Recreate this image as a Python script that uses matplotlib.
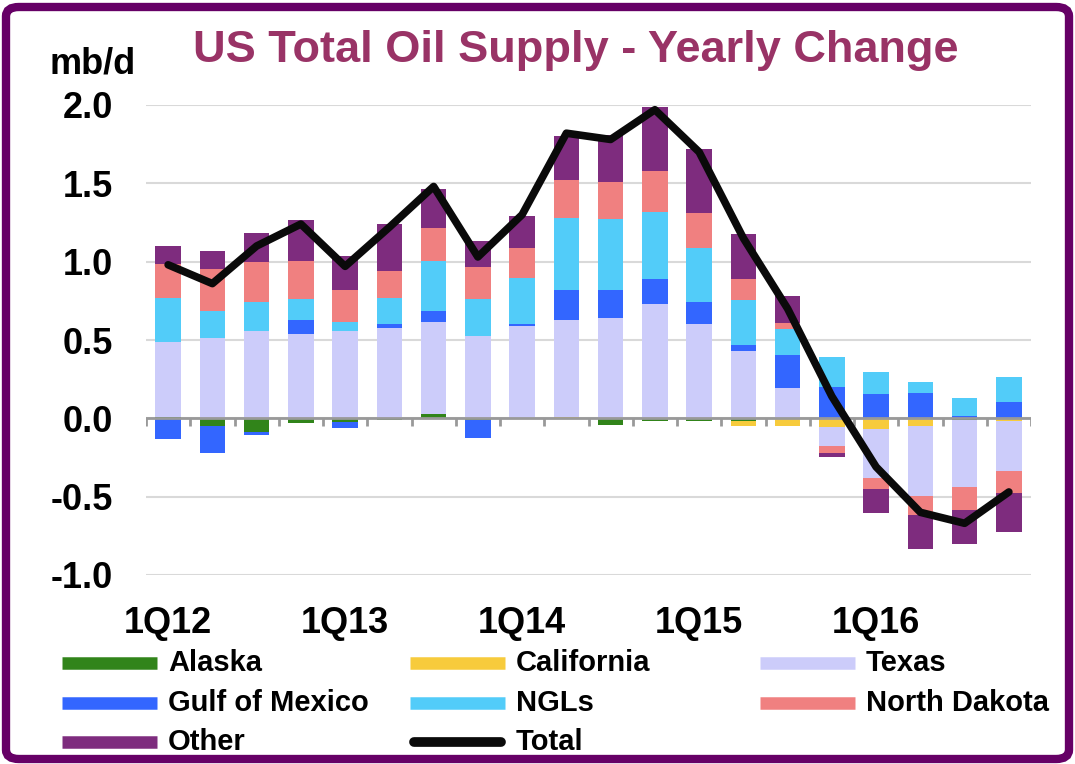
import matplotlib
matplotlib.use("agg")
import matplotlib.pyplot as plt
import numpy as np
from matplotlib.patches import FancyBboxPatch
from matplotlib.lines import Line2D

plt.rcParams['font.family'] = ['Liberation Sans', 'DejaVu Sans']
plt.rcParams['font.weight'] = 'bold'

quarters = ['1Q12', '2Q12', '3Q12', '4Q12', '1Q13', '2Q13', '3Q13', '4Q13',
            '1Q14', '2Q14', '3Q14', '4Q14', '1Q15', '2Q15', '3Q15', '4Q15',
            '1Q16', '2Q16', '3Q16', '4Q16']
tick_labels = ['1Q12', '1Q13', '1Q14', '1Q15', '1Q16']

alaska = [0.01, -0.05, -0.085, -0.03, -0.025, -0.01, 0.025, -0.01, -0.005, 0.0,
          -0.04, -0.02, -0.02, -0.02, 0.0, 0.0, 0.0, 0.0, -0.01, 0.0]
california = [0.0, 0.0, 0.0, 0.0, 0.0, 0.0, 0.0, 0.0, 0.0, 0.01,
              0.0, 0.0, 0.0, -0.03, -0.05, -0.058, -0.069, -0.047, 0.0, -0.015]
texas = [0.478, 0.513, 0.556, 0.541, 0.556, 0.578, 0.589, 0.524, 0.588, 0.617,
         0.64, 0.727, 0.599, 0.428, 0.193, -0.118, -0.315, -0.451, -0.428, -0.32]
gulf = [-0.13, -0.17, -0.02, 0.086, -0.035, 0.021, 0.07, -0.118, 0.011, 0.193,
        0.18, 0.161, 0.143, 0.042, 0.21, 0.20, 0.157, 0.161, 0.017, 0.107]
ngls = [0.282, 0.171, 0.186, 0.133, 0.058, 0.171, 0.321, 0.235, 0.299, 0.46,
        0.45, 0.432, 0.345, 0.283, 0.166, 0.193, 0.139, 0.071, 0.114, 0.157]
north_dakota = [0.214, 0.272, 0.257, 0.245, 0.206, 0.17, 0.208, 0.204, 0.192, 0.24,
                0.24, 0.256, 0.223, 0.137, 0.038, -0.043, -0.065, -0.118, -0.146, -0.139]
other = [0.113, 0.114, 0.181, 0.261, 0.217, 0.30, 0.252, 0.171, 0.204, 0.28,
         0.30, 0.414, 0.41, 0.286, 0.172, -0.028, -0.156, -0.219, -0.216, -0.251]
total = [0.98, 0.86, 1.10, 1.24, 0.97, 1.22, 1.48, 1.03, 1.30, 1.82,
         1.78, 1.97, 1.70, 1.15, 0.70, 0.14, -0.31, -0.60, -0.67, -0.47]

series = [('Alaska', alaska, '#31841A'),
          ('California', california, '#F7CB3C'),
          ('Texas', texas, '#CCCCFA'),
          ('Gulf of Mexico', gulf, '#3366FF'),
          ('NGLs', ngls, '#52CCF9'),
          ('North Dakota', north_dakota, '#F08080'),
          ('Other', other, '#7E2C7E')]

fig = plt.figure(figsize=(10.75, 7.64), dpi=100)
ax = fig.add_axes([146 / 1075, 1 - 575 / 764, (1031 - 146) / 1075, (575 - 105) / 764])

x = np.arange(len(quarters))
pos_base = np.zeros(len(x))
neg_base = np.zeros(len(x))
for name, vals, col in series:
    v = np.array(vals)
    p = np.where(v > 0, v, 0)
    n = np.where(v < 0, v, 0)
    ax.bar(x, p, 0.58, bottom=pos_base, color=col, zorder=2)
    ax.bar(x, n, 0.58, bottom=neg_base, color=col, zorder=2)
    pos_base += p
    neg_base += n

ax.plot(x, total, color='#0a0a0a', lw=5.5, solid_joinstyle='round', solid_capstyle='round', zorder=4)

ax.set_xlim(-0.5, len(x) - 0.5)
ax.set_ylim(-1.0, 2.0)
ax.set_yticks([-1.0, -0.5, 0.0, 0.5, 1.0, 1.5, 2.0])
ax.set_yticklabels(['-1.0', '-0.5', '0.0', '0.5', '1.0', '1.5', '2.0'], fontsize=26, fontweight='bold')
ax.grid(axis='y', color='#D9D9D9', lw=1.5, zorder=0)
for s in ax.spines.values():
    s.set_visible(False)
ax.tick_params(axis='y', length=0, pad=24)
ax.set_xticks(x[::4])
ax.set_xticklabels(tick_labels, fontsize=26, fontweight='bold')
ax.tick_params(axis='x', length=0, pad=22)

# zero axis with category separators
ax.axhline(0, color='#999999', lw=2, zorder=3)
ax.vlines(np.arange(len(x) + 1) - 0.5, -0.05, 0, color='#999999', lw=2, zorder=3)

fig.text(50 / 1075, 1 - 73 / 764, 'mb/d', fontsize=26, fontweight='bold', ha='left', va='baseline')
fig.text(576 / 1075, 1 - 62 / 764, 'US Total Oil Supply - Yearly Change', fontsize=32.5,
         fontweight='bold', color='#993366', ha='center', va='baseline')

# legend drawn manually
legend_items = [('Alaska', '#31841A', 0, 0), ('California', '#F7CB3C', 1, 0), ('Texas', '#CCCCFA', 2, 0),
                ('Gulf of Mexico', '#3366FF', 0, 1), ('NGLs', '#52CCF9', 1, 1), ('North Dakota', '#F08080', 2, 1),
                ('Other', '#7E2C7E', 0, 2), ('Total', '#0a0a0a', 1, 2)]
col_x = [62, 410, 760]
row_y = [663, 703, 742]
for name, col, c, r in legend_items:
    y = 1 - row_y[r] / 764
    x0 = col_x[c] / 1075
    x1 = (col_x[c] + 95) / 1075
    if name == 'Total':
        fig.add_artist(Line2D([x0 + 0.004, x1 - 0.004], [y, y], color=col, lw=7, solid_capstyle='round'))
    else:
        fig.add_artist(Line2D([x0, x1], [y, y], color=col, lw=9, solid_capstyle='butt'))
    fig.text((col_x[c] + 106) / 1075, y, name, fontsize=21, fontweight='bold', ha='left', va='center')

border = FancyBboxPatch((6 / 1075, 5 / 764), 1063 / 1075, 752 / 764,
                        boxstyle='round,pad=0,rounding_size=0.012', transform=fig.transFigure,
                        fill=False, edgecolor='#660066', lw=6)
fig.add_artist(border)

fig.savefig('out.png', dpi=100)
